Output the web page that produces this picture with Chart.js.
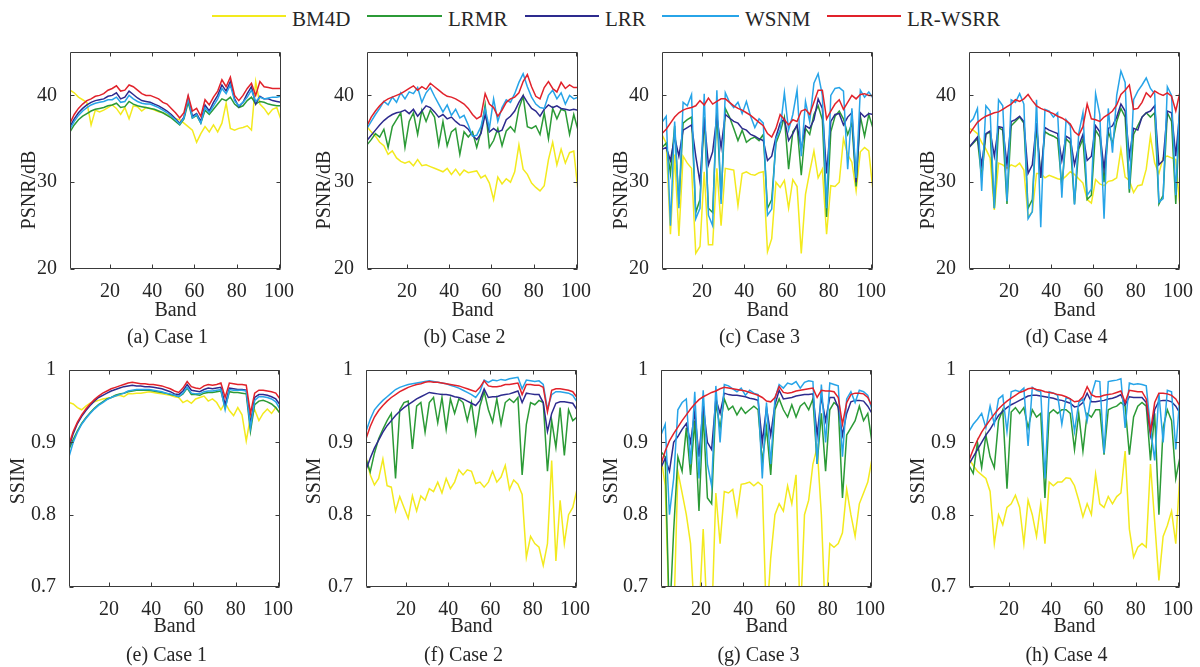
<!DOCTYPE html>
<html>
<head>
<meta charset="utf-8">
<script src="https://cdn.jsdelivr.net/npm/chart.js@4.4.1/dist/chart.umd.min.js"></script>
<style>
  body { margin: 0; background: #fff; }
  #page { position: relative; width: 1200px; height: 667px; overflow: hidden; font-family: "Liberation Serif", "Times New Roman", serif; color: #262626; }
  .txt { position: absolute; width: 200px; height: 24px; line-height: 24px; text-align: center; font-size: 20px; white-space: nowrap; }
  .rot { transform: rotate(-90deg); }
  .legtxt { position: absolute; font-size: 21px; line-height: 21px; top: 9px; white-space: nowrap; }
  .legline { position: absolute; top: 15px; height: 2px; }
  .panel { position: absolute; }
</style>
</head>
<body>
<div id="page"></div>
<script>
// band axis (every second band)
const bands = [1,3,5,7,9,11,13,15,17,19,21,23,25,27,29,31,33,35,37,39,41,43,45,47,49,51,53,55,57,59,61,63,65,67,69,71,73,75,77,79,81,83,85,87,89,91,93,95,97,99,101];
const methods = ["BM4D", "LRMR", "LRR", "WSNM", "LR-WSRR"];
const xTicks = [20, 40, 60, 80, 100];
const psnrTicks = [20, 30, 40];
const ssimTicks = [0.7, 0.8, 0.9, 1];

// PSNR, case 1
const bm4dPsnr1 = [40.6,40.3,39.8,39.5,39.2,36.6,38.3,38.1,38.3,38.6, 38.9,38.5,37.8,38.6,37.3,38.8,38.7,38.2,38.6,38.5, 38.3,38.1,38.0,37.8,37.6,37.3,37.2,36.8,36.4,36.0, 34.6,35.6,36.4,35.8,36.6,35.8,36.8,39.1,36.2,36.0, 36.2,36.3,36.5,36.0,41.6,39.0,38.5,37.8,38.4,38.6, 37.2];
const lrmrPsnr1 = [35.8,36.6,37.2,37.6,37.9,38.2,38.4,38.5,38.6,38.8, 38.9,39.1,38.6,38.7,39.3,39.0,38.8,38.7,38.6,38.5, 38.4,38.2,38.0,37.7,37.4,37.0,36.6,37.3,39.2,37.4, 37.7,36.8,38.3,37.8,38.4,39.0,39.6,39.4,39.8,39.0, 38.6,38.8,39.4,39.8,39.0,39.3,39.2,39.0,38.9,38.8, 38.8];
const lrrPsnr1 = [36.4,37.3,38.0,38.5,38.9,39.2,39.4,39.5,39.6,39.9, 40.0,40.3,39.6,39.8,40.5,40.1,39.7,39.4,39.3,39.2, 39.0,38.8,38.5,38.2,37.8,37.3,36.8,37.5,39.8,37.6, 37.9,37.0,38.9,38.2,39.2,40.0,41.2,40.5,41.6,39.6, 38.7,39.2,40.2,41.0,39.0,39.9,39.6,39.6,39.4,39.3, 39.2];
const wsnmPsnr1 = [36.1,37.0,37.7,38.2,38.6,38.9,39.1,39.2,39.3,39.5, 39.5,39.8,39.2,39.3,40.0,39.6,39.3,39.1,39.0,39.0, 38.8,38.6,38.3,38.0,37.6,37.2,36.7,37.4,39.6,37.4, 37.8,36.8,38.6,38.0,38.8,39.6,40.8,40.2,41.2,39.4, 38.8,39.2,39.8,40.6,39.3,39.8,39.6,39.7,39.8,39.8, 39.9];
const lrwsrrPsnr1 = [36.8,37.8,38.5,39.0,39.4,39.6,39.9,40.0,40.2,40.6, 40.8,41.1,40.5,40.6,41.2,41.0,40.6,40.2,40.0,40.0, 39.8,39.6,39.2,39.0,38.5,38.0,37.4,38.0,40.0,38.2, 38.5,37.6,39.5,38.9,39.8,40.5,41.8,41.0,42.1,40.0, 39.4,40.0,40.8,41.4,40.0,41.6,41.0,40.9,40.8,40.8, 40.8];

// PSNR, case 2
const bm4dPsnr2 = [36.4,35.8,35.3,34.6,34.2,33.2,33.6,32.8,32.4,32.2, 32.4,31.9,32.6,31.9,32.0,31.8,31.6,31.4,31.2,31.6, 30.9,31.5,30.8,31.4,31.1,31.2,31.3,30.5,30.8,29.9, 28.0,30.6,29.8,30.4,30.0,31.2,34.3,31.5,30.9,29.9, 29.4,29.0,29.6,32.6,34.6,32.0,33.8,32.2,33.4,33.6, 29.0];
const lrmrPsnr2 = [34.3,34.9,35.6,35.2,36.1,34.0,36.4,37.2,38.0,34.0, 37.0,38.0,35.5,38.3,37.0,38.3,37.5,34.3,37.0,34.2, 35.8,36.2,33.2,35.8,35.2,35.8,34.0,35.8,38.9,34.0, 34.8,36.2,34.2,35.9,36.4,35.8,38.5,39.9,36.4,36.2, 36.5,35.5,38.0,35.0,38.5,37.3,38.4,38.2,35.5,37.8, 36.0];
const lrrPsnr2 = [34.8,35.4,36.0,36.6,37.1,37.5,37.8,38.0,38.1,38.3, 37.9,38.4,37.6,38.2,38.8,38.6,38.1,37.5,37.8,37.3, 37.5,37.0,36.6,36.5,36.1,35.4,34.9,35.6,37.8,35.8, 36.2,35.8,36.0,37.2,37.6,38.2,39.2,40.0,39.2,38.5, 38.2,37.6,38.4,38.9,38.6,38.8,38.5,38.4,38.3,38.4, 38.3];
const wsnmPsnr2 = [36.2,37.0,37.8,38.5,39.3,38.9,39.8,39.2,40.3,39.6, 40.4,40.2,40.9,39.2,40.3,40.9,39.9,39.0,38.1,38.9, 37.7,38.4,37.4,37.7,36.6,35.3,35.4,36.4,38.5,36.2, 39.6,37.0,38.6,39.5,39.2,40.2,41.5,42.5,41.0,39.8, 39.0,38.6,38.5,40.0,40.6,39.6,40.3,39.0,40.0,39.6, 39.8];
const lrwsrrPsnr2 = [36.5,37.5,38.2,38.8,39.3,39.6,39.8,40.0,40.2,40.5, 40.8,41.1,40.6,41.0,40.7,41.4,41.0,40.6,40.2,39.9, 39.8,39.6,39.3,39.0,38.5,37.8,37.3,37.6,40.2,39.0, 38.6,37.6,38.3,39.2,39.6,39.8,40.3,41.6,42.4,41.0, 39.9,39.6,40.9,41.6,40.8,40.4,41.5,40.8,41.2,40.9, 40.9];

// PSNR, case 3
const bm4dPsnr3 = [35.5,34.5,24.0,33.2,23.8,33.0,32.2,31.6,21.8,22.6, 31.2,22.8,22.8,31.6,25.0,31.6,31.5,31.4,27.3,31.0, 31.2,30.9,30.8,31.1,31.2,22.0,23.5,30.0,29.4,30.2, 27.0,30.3,29.5,21.8,28.6,31.2,33.6,30.5,31.5,24.0, 29.6,29.5,30.0,35.0,33.2,32.3,29.0,33.5,34.0,33.6, 29.0];
const lrmrPsnr3 = [34.0,34.5,31.0,36.5,27.5,36.8,37.2,37.5,26.5,28.0, 37.5,27.0,26.5,38.2,28.0,38.5,37.5,36.2,34.8,36.0, 34.6,35.0,35.2,34.8,35.5,27.0,28.0,34.5,35.8,37.5, 31.5,35.8,36.5,30.8,36.2,35.5,37.8,38.8,37.2,26.0, 35.8,37.6,38.2,37.3,35.5,36.8,29.5,37.6,35.3,37.8, 36.2];
const lrrPsnr3 = [33.8,34.0,32.5,35.2,33.0,36.0,36.3,36.6,33.0,30.0, 37.3,32.0,33.5,37.6,34.0,37.8,37.4,37.0,36.8,36.2, 36.0,35.5,35.3,35.0,34.8,32.5,33.0,35.2,36.8,37.3, 34.8,35.6,36.6,33.8,36.5,36.2,37.2,39.6,38.5,31.0, 37.0,37.8,37.9,36.6,37.5,38.0,30.0,38.0,37.5,37.9, 37.8];
const wsnmPsnr3 = [36.9,37.6,25.0,37.0,27.0,39.2,38.8,40.1,25.8,27.0, 40.2,26.2,25.0,40.6,27.5,40.3,39.2,38.6,39.2,37.9, 39.3,37.6,36.3,37.3,36.8,26.2,26.9,35.0,36.0,40.3, 36.0,37.8,40.6,33.0,39.3,37.0,41.4,42.5,40.0,27.0, 40.0,40.8,40.9,40.5,31.5,38.5,30.5,40.6,39.8,40.4, 39.7];
const lrwsrrPsnr3 = [35.6,36.1,36.8,37.5,38.0,38.3,38.5,38.6,38.8,39.4, 38.9,39.7,39.0,39.3,39.6,39.6,39.2,38.8,38.5,38.3, 38.0,37.7,37.3,36.9,36.5,35.6,35.2,36.2,37.8,37.2, 36.6,37.2,37.0,38.2,38.4,37.8,39.2,40.6,40.6,37.3, 38.2,39.0,39.5,38.4,39.2,40.0,39.6,40.1,40.2,40.0, 40.0];

// PSNR, case 4
const bm4dPsnr4 = [36.2,36.0,35.6,34.6,33.8,32.8,26.8,32.2,32.0,31.6, 32.0,31.8,32.2,31.4,26.0,26.6,31.0,31.0,30.5,30.8, 30.6,30.4,30.3,30.7,31.2,30.9,30.4,29.9,28.0,27.6, 30.3,29.8,29.6,30.1,30.2,30.5,33.8,30.6,30.2,28.8, 29.6,29.7,31.5,35.3,32.2,31.0,32.8,33.0,32.8,32.6, 27.0];
const lrmrPsnr4 = [34.0,34.5,35.0,30.5,35.5,35.8,27.0,36.3,36.0,27.5, 36.5,37.0,37.5,36.8,27.0,28.0,36.5,30.5,35.8,35.5, 35.3,35.0,29.5,35.0,34.5,27.5,33.8,35.0,28.0,28.5, 36.0,35.2,30.0,35.8,34.5,37.0,38.5,37.5,28.8,35.5, 36.5,37.5,38.0,37.5,38.0,27.5,28.5,38.0,37.0,27.5, 38.5];
const lrrPsnr4 = [34.0,34.6,35.2,32.0,35.6,35.9,33.0,36.4,36.3,32.0, 37.0,37.2,37.6,37.0,31.0,32.0,36.8,30.5,36.3,36.0, 35.8,35.6,32.5,35.3,35.0,32.0,34.2,35.5,32.5,33.0, 36.5,35.8,31.5,36.2,36.5,37.5,39.0,38.2,33.0,36.2, 36.0,37.5,38.0,38.2,38.8,32.0,32.5,38.2,38.0,33.0, 38.5];
const wsnmPsnr4 = [36.8,37.3,38.5,29.0,38.8,38.2,27.0,39.5,38.8,27.8, 39.5,39.2,40.2,39.0,25.8,26.6,39.5,24.8,38.4,38.2, 37.5,38.0,28.2,37.2,36.5,27.4,35.6,38.0,28.5,29.2, 40.2,37.8,25.8,38.5,33.4,40.0,42.8,41.5,29.2,39.5, 40.5,41.2,42.0,40.8,40.2,27.7,28.1,41.0,40.0,28.5, 40.2];
const lrwsrrPsnr4 = [35.5,36.2,36.9,37.3,37.6,37.8,38.0,38.1,38.4,38.7, 39.0,39.5,39.3,39.6,40.1,39.4,38.8,38.5,38.3,38.1, 37.9,37.6,37.4,37.1,36.7,35.8,35.4,36.4,39.0,37.3, 37.2,37.0,37.5,37.8,38.2,38.9,40.1,40.6,41.2,38.4, 38.5,39.2,40.3,39.8,40.5,40.2,40.0,40.3,39.9,38.2, 40.4];

// SSIM, case 1
const bm4dSsim1 = [0.955,0.953,0.948,0.945,0.95,0.954,0.956,0.958,0.96,0.961, 0.962,0.964,0.965,0.963,0.967,0.967,0.968,0.968,0.969,0.97, 0.969,0.968,0.967,0.966,0.965,0.963,0.962,0.955,0.958,0.954, 0.96,0.962,0.964,0.957,0.96,0.955,0.945,0.955,0.944,0.937, 0.948,0.938,0.902,0.935,0.945,0.93,0.94,0.946,0.94,0.948, 0.94];
const lrmrSsim1 = [0.89,0.904,0.916,0.926,0.934,0.941,0.947,0.952,0.956,0.96, 0.962,0.965,0.967,0.968,0.97,0.971,0.972,0.972,0.972,0.972, 0.971,0.97,0.969,0.968,0.966,0.965,0.963,0.967,0.975,0.966, 0.966,0.965,0.968,0.969,0.969,0.97,0.971,0.948,0.97,0.969, 0.969,0.968,0.967,0.915,0.952,0.957,0.958,0.956,0.953,0.948, 0.94];
const lrrSsim1 = [0.893,0.912,0.926,0.936,0.944,0.951,0.957,0.962,0.965,0.968, 0.971,0.973,0.975,0.977,0.978,0.979,0.978,0.978,0.977,0.977, 0.976,0.975,0.974,0.972,0.97,0.967,0.966,0.971,0.98,0.972, 0.971,0.97,0.973,0.975,0.974,0.975,0.976,0.952,0.975,0.974, 0.973,0.973,0.972,0.925,0.962,0.966,0.966,0.965,0.963,0.96, 0.952];
const wsnmSsim1 = [0.88,0.9,0.914,0.925,0.933,0.94,0.946,0.951,0.955,0.959, 0.962,0.964,0.966,0.968,0.971,0.972,0.973,0.973,0.973,0.973, 0.972,0.971,0.97,0.968,0.967,0.965,0.963,0.968,0.976,0.968, 0.967,0.967,0.97,0.971,0.971,0.972,0.973,0.945,0.973,0.972, 0.972,0.972,0.971,0.92,0.958,0.963,0.963,0.962,0.96,0.956, 0.946];
const lrwsrrSsim1 = [0.897,0.915,0.928,0.938,0.946,0.953,0.959,0.964,0.968,0.971, 0.974,0.976,0.978,0.98,0.982,0.983,0.982,0.981,0.981,0.98, 0.98,0.979,0.978,0.976,0.974,0.971,0.969,0.975,0.984,0.977, 0.975,0.974,0.978,0.98,0.979,0.98,0.982,0.962,0.982,0.981, 0.98,0.98,0.979,0.94,0.968,0.972,0.972,0.971,0.97,0.968, 0.96];

// SSIM, case 2
const bm4dSsim2 = [0.88,0.855,0.841,0.85,0.877,0.84,0.838,0.805,0.825,0.81, 0.795,0.826,0.805,0.826,0.82,0.836,0.832,0.845,0.83,0.85, 0.836,0.845,0.862,0.855,0.862,0.86,0.843,0.845,0.838,0.845, 0.86,0.845,0.852,0.868,0.835,0.848,0.842,0.828,0.741,0.77, 0.76,0.755,0.73,0.76,0.875,0.736,0.82,0.76,0.8,0.81, 0.835];
const lrmrSsim2 = [0.877,0.859,0.885,0.905,0.918,0.93,0.94,0.85,0.945,0.955, 0.957,0.891,0.95,0.955,0.914,0.955,0.962,0.927,0.962,0.918, 0.96,0.94,0.96,0.955,0.93,0.955,0.912,0.95,0.97,0.945, 0.928,0.96,0.925,0.955,0.96,0.955,0.962,0.855,0.925,0.955, 0.952,0.958,0.955,0.86,0.93,0.893,0.948,0.882,0.945,0.93, 0.935];
const lrrSsim2 = [0.862,0.878,0.892,0.903,0.914,0.923,0.93,0.937,0.943,0.948, 0.952,0.956,0.96,0.963,0.966,0.969,0.968,0.967,0.966,0.966, 0.965,0.963,0.962,0.96,0.957,0.954,0.951,0.958,0.974,0.962, 0.963,0.963,0.965,0.966,0.967,0.969,0.971,0.955,0.968,0.967, 0.966,0.966,0.955,0.915,0.94,0.954,0.956,0.956,0.955,0.954, 0.945];
const wsnmSsim2 = [0.915,0.932,0.945,0.952,0.958,0.963,0.968,0.973,0.976,0.978, 0.98,0.981,0.982,0.983,0.984,0.985,0.984,0.983,0.982,0.981, 0.979,0.977,0.975,0.972,0.969,0.966,0.962,0.97,0.986,0.983, 0.986,0.985,0.987,0.986,0.988,0.989,0.99,0.974,0.986,0.985, 0.984,0.985,0.98,0.946,0.966,0.97,0.97,0.969,0.968,0.965, 0.956];
const lrwsrrSsim2 = [0.905,0.922,0.935,0.944,0.951,0.957,0.962,0.966,0.97,0.973, 0.976,0.978,0.98,0.981,0.983,0.984,0.983,0.983,0.982,0.981, 0.98,0.979,0.978,0.976,0.974,0.972,0.97,0.976,0.985,0.978, 0.977,0.977,0.978,0.98,0.98,0.981,0.982,0.966,0.98,0.98, 0.979,0.979,0.976,0.942,0.972,0.974,0.974,0.973,0.972,0.97, 0.962];

// SSIM, case 3
const bm4dSsim3 = [0.88,0.84,0.65,0.65,0.86,0.83,0.8,0.76,0.65,0.66, 0.78,0.65,0.65,0.83,0.76,0.832,0.83,0.835,0.8,0.842, 0.843,0.845,0.84,0.845,0.84,0.65,0.74,0.8,0.815,0.805, 0.84,0.815,0.855,0.65,0.8,0.82,0.87,0.893,0.8,0.65, 0.76,0.755,0.76,0.775,0.835,0.8,0.77,0.815,0.83,0.845, 0.877];
const lrmrSsim3 = [0.887,0.88,0.65,0.778,0.88,0.86,0.92,0.855,0.93,0.805, 0.94,0.823,0.815,0.955,0.92,0.96,0.945,0.95,0.938,0.948, 0.94,0.945,0.95,0.945,0.873,0.92,0.855,0.945,0.96,0.945, 0.935,0.952,0.935,0.95,0.955,0.945,0.96,0.87,0.94,0.86, 0.945,0.955,0.95,0.823,0.91,0.92,0.93,0.95,0.93,0.94, 0.9];
const lrrSsim3 = [0.865,0.878,0.86,0.9,0.908,0.918,0.926,0.9,0.942,0.88, 0.951,0.9,0.89,0.96,0.94,0.968,0.966,0.965,0.965,0.964, 0.963,0.961,0.96,0.958,0.9,0.948,0.91,0.952,0.972,0.96, 0.961,0.962,0.964,0.965,0.966,0.966,0.967,0.91,0.963,0.93, 0.962,0.962,0.948,0.91,0.94,0.956,0.958,0.958,0.957,0.95, 0.94];
const wsnmSsim3 = [0.91,0.925,0.8,0.85,0.945,0.955,0.96,0.87,0.97,0.85, 0.972,0.87,0.84,0.978,0.9,0.98,0.978,0.974,0.97,0.975, 0.965,0.972,0.968,0.966,0.85,0.955,0.87,0.96,0.98,0.975, 0.982,0.98,0.984,0.975,0.983,0.985,0.984,0.87,0.98,0.9, 0.982,0.98,0.978,0.88,0.96,0.97,0.955,0.972,0.97,0.965, 0.945];
const lrwsrrSsim3 = [0.87,0.888,0.902,0.912,0.921,0.93,0.938,0.946,0.953,0.959, 0.963,0.966,0.969,0.971,0.974,0.976,0.975,0.974,0.973,0.972, 0.971,0.969,0.967,0.965,0.962,0.957,0.956,0.962,0.977,0.969, 0.968,0.969,0.971,0.972,0.973,0.974,0.975,0.962,0.972,0.971, 0.971,0.97,0.962,0.925,0.955,0.966,0.968,0.968,0.967,0.962, 0.95];

// SSIM, case 4
const bm4dSsim4 = [0.877,0.868,0.86,0.855,0.85,0.832,0.76,0.8,0.786,0.81, 0.815,0.827,0.81,0.76,0.82,0.8,0.77,0.815,0.76,0.845, 0.84,0.845,0.845,0.851,0.85,0.84,0.82,0.797,0.815,0.8, 0.856,0.815,0.81,0.825,0.815,0.825,0.83,0.888,0.78,0.741, 0.755,0.76,0.755,0.87,0.79,0.709,0.77,0.785,0.805,0.76, 0.86];
const lrmrSsim4 = [0.868,0.857,0.9,0.865,0.91,0.88,0.865,0.93,0.945,0.836, 0.942,0.948,0.94,0.948,0.92,0.945,0.935,0.94,0.823,0.94, 0.945,0.94,0.945,0.945,0.94,0.89,0.94,0.888,0.94,0.935, 0.945,0.945,0.883,0.945,0.948,0.95,0.955,0.95,0.883,0.935, 0.95,0.955,0.95,0.875,0.94,0.8,0.92,0.945,0.93,0.85, 0.88];
const lrrSsim4 = [0.87,0.88,0.89,0.9,0.91,0.918,0.928,0.937,0.943,0.948, 0.952,0.955,0.958,0.961,0.964,0.965,0.965,0.964,0.963,0.962, 0.961,0.959,0.958,0.956,0.954,0.949,0.95,0.955,0.968,0.956, 0.956,0.957,0.958,0.96,0.961,0.963,0.966,0.952,0.963,0.962, 0.962,0.962,0.955,0.91,0.945,0.957,0.958,0.958,0.956,0.95, 0.94];
const wsnmSsim4 = [0.915,0.925,0.932,0.94,0.92,0.95,0.925,0.96,0.965,0.915, 0.97,0.972,0.97,0.975,0.895,0.976,0.972,0.97,0.85,0.97, 0.968,0.965,0.925,0.962,0.96,0.915,0.955,0.96,0.93,0.965, 0.985,0.984,0.885,0.984,0.985,0.986,0.988,0.92,0.982,0.98, 0.981,0.98,0.978,0.92,0.875,0.968,0.9,0.972,0.97,0.89, 0.965];
const lrwsrrSsim4 = [0.875,0.89,0.903,0.914,0.923,0.931,0.939,0.946,0.952,0.957, 0.961,0.965,0.969,0.971,0.974,0.975,0.973,0.972,0.97,0.969, 0.968,0.966,0.965,0.963,0.96,0.956,0.957,0.963,0.977,0.966, 0.963,0.963,0.965,0.966,0.967,0.969,0.971,0.955,0.972,0.971, 0.97,0.97,0.96,0.915,0.955,0.968,0.968,0.967,0.965,0.96, 0.95];

const captions = ["(a) Case 1", "(b) Case 2", "(c) Case 3", "(d) Case 4", "(e) Case 1", "(f) Case 2", "(g) Case 3", "(h) Case 4"];
const panelSeries = [
  [bm4dPsnr1, lrmrPsnr1, lrrPsnr1, wsnmPsnr1, lrwsrrPsnr1],
  [bm4dPsnr2, lrmrPsnr2, lrrPsnr2, wsnmPsnr2, lrwsrrPsnr2],
  [bm4dPsnr3, lrmrPsnr3, lrrPsnr3, wsnmPsnr3, lrwsrrPsnr3],
  [bm4dPsnr4, lrmrPsnr4, lrrPsnr4, wsnmPsnr4, lrwsrrPsnr4],
  [bm4dSsim1, lrmrSsim1, lrrSsim1, wsnmSsim1, lrwsrrSsim1],
  [bm4dSsim2, lrmrSsim2, lrrSsim2, wsnmSsim2, lrwsrrSsim2],
  [bm4dSsim3, lrmrSsim3, lrrSsim3, wsnmSsim3, lrwsrrSsim3],
  [bm4dSsim4, lrmrSsim4, lrrSsim4, wsnmSsim4, lrwsrrSsim4]
];

// styles / layout
const colors = ["#f3ea1e", "#2b9a36", "#2d2b8e", "#27a4e8", "#e1222b"];
const plotLefts = [70, 367, 662, 969, 69, 366, 661, 969];
const rowTops = [49, 367];
const yLabelX = [28, 323, 620, 927, 17, 313, 610, 917];
const PW = 211, PH = 220;
const legLineX = [212, 367, 525, 662, 827];
const legTextX = [292, 448, 605, 745, 907];

Chart.defaults.font.family = "'Liberation Serif', 'Times New Roman', serif";
Chart.defaults.font.size = 20;
Chart.defaults.color = "#262626";

const page = document.getElementById("page");

function addText(str, cx, cy, rotated) {
  const d = document.createElement("div");
  d.className = "txt" + (rotated ? " rot" : "");
  d.style.left = (cx - 100) + "px";
  d.style.top = (cy - 12) + "px";
  d.textContent = str;
  page.appendChild(d);
}

// legend
methods.forEach((m, k) => {
  const ln = document.createElement("div");
  ln.className = "legline";
  ln.style.left = legLineX[k] + "px";
  ln.style.width = (legTextX[k] - legLineX[k] - 6) + "px";
  ln.style.background = colors[k];
  page.appendChild(ln);
  const t = document.createElement("div");
  t.className = "legtxt";
  t.style.left = legTextX[k] + "px";
  t.textContent = m;
  page.appendChild(t);
});

// box + inward ticks, MATLAB style
const framePlugin = {
  id: "frame",
  afterDatasetsDraw(chart) {
    const { ctx, chartArea: a, scales } = chart;
    const L = Math.round(a.left) + 0.5, R = Math.round(a.right) - 0.5;
    const T = Math.round(a.top) + 0.5, B = Math.round(a.bottom) - 0.5;
    ctx.save();
    ctx.strokeStyle = "#3a3a3a";
    ctx.lineWidth = 1;
    ctx.beginPath();
    scales.x.ticks.forEach(t => {
      const px = Math.round(scales.x.getPixelForValue(t.value)) + 0.5;
      ctx.moveTo(px, B); ctx.lineTo(px, B - 4);
      ctx.moveTo(px, T); ctx.lineTo(px, T + 4);
    });
    scales.y.ticks.forEach(t => {
      const py = Math.round(scales.y.getPixelForValue(t.value)) + 0.5;
      ctx.moveTo(L, py); ctx.lineTo(L + 4, py);
      ctx.moveTo(R, py); ctx.lineTo(R - 4, py);
    });
    ctx.rect(L, T, R - L, B - T);
    ctx.stroke();
    ctx.restore();
  }
};

panelSeries.forEach((series, i) => {
  const row = i < 4 ? 0 : 1;
  const isPsnr = row === 0;
  const left = plotLefts[i], top = rowTops[row];

  const wrap = document.createElement("div");
  wrap.className = "panel";
  wrap.style.left = (left - 60) + "px";
  wrap.style.top = (top - 14) + "px";
  const cv = document.createElement("canvas");
  cv.width = PW + 80;
  cv.height = PH + 49;
  wrap.appendChild(cv);
  page.appendChild(wrap);

  const yTicks = isPsnr ? psnrTicks : ssimTicks;

  new Chart(cv, {
    type: "line",
    data: {
      datasets: methods.map((m, k) => ({
        label: m,
        data: bands.map((b, j) => ({ x: b, y: series[k][j] })),
        borderColor: colors[k],
        borderWidth: 1.5,
        pointRadius: 0,
        tension: 0,
        order: methods.length - k
      }))
    },
    options: {
      responsive: false,
      animation: false,
      devicePixelRatio: 1,
      events: [],
      layout: { padding: { top: 14, right: 20, left: 0, bottom: 0 } },
      plugins: { legend: { display: false }, tooltip: { enabled: false } },
      scales: {
        x: {
          type: "linear",
          min: 1,
          max: 101,
          grid: { display: false },
          border: { display: false },
          afterBuildTicks: ax => { ax.ticks = xTicks.map(v => ({ value: v })); },
          afterFit: ax => { ax.height = 35; },
          ticks: { padding: 3, autoSkip: false, maxRotation: 0, callback: v => String(v) }
        },
        y: {
          type: "linear",
          min: isPsnr ? 20 : 0.7,
          max: isPsnr ? 45 : 1,
          grid: { display: false },
          border: { display: false },
          afterBuildTicks: ax => { ax.ticks = yTicks.map(v => ({ value: v })); },
          afterFit: ax => { ax.width = 60; },
          ticks: { padding: 5, callback: v => String(v) }
        }
      }
    },
    plugins: [framePlugin]
  });

  const cx = left + PW / 2;
  addText(isPsnr ? "PSNR/dB" : "SSIM", yLabelX[i], isPsnr ? 190 : 481, true);
  addText("Band", cx, isPsnr ? 309 : 625);
  addText(captions[i], cx - 8, isPsnr ? 336 : 654);
});
</script>
</body>
</html>
